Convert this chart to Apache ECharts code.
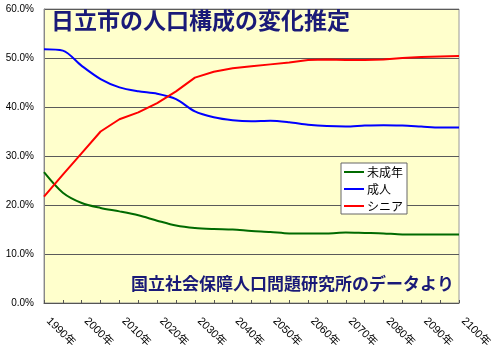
<!DOCTYPE html>
<html>
<head>
<meta charset="utf-8">
<script src="https://cdn.jsdelivr.net/npm/echarts@6/dist/echarts.min.js"></script>
<style>
  html, body { margin: 0; padding: 0; background: #fff; }
  #chart { width: 499px; height: 354px; }
</style>
</head>
<body>
<div id="chart"></div>
<script>
// 5年ごとの年（1990〜2100）
var years = []
for (var y = 1990; y <= 2100; y += 5) years.push(y + '年')

// 人口構成比（%）
var minors = [26.7, 22.5, 20.4, 19.4, 18.7, 17.9, 16.8, 15.8, 15.3, 15.1, 15.0, 14.7,
  14.5, 14.2, 14.2, 14.2, 14.4, 14.3, 14.2, 14.0, 14.0, 14.0, 14.0]
var adults = [51.8, 51.5, 48.4, 45.7, 44.0, 43.2, 42.7, 41.6, 39.1, 37.9, 37.3, 37.1,
  37.2, 36.9, 36.4, 36.1, 36.0, 36.2, 36.3, 36.2, 36.0, 35.8, 35.8]
var seniors = [21.7, 26.2, 30.6, 35.0, 37.5, 38.9, 40.8, 43.2, 46.0, 47.2, 47.9, 48.3,
  48.7, 49.1, 49.6, 49.7, 49.6, 49.6, 49.7, 50.0, 50.2, 50.3, 50.4]

var yTicks = [0, 10, 20, 30, 40, 50, 60]

var jpFont = '"Noto Sans CJK JP", sans-serif'
var latinFont = '"Liberation Sans", "Noto Sans CJK JP", sans-serif'

var myChart = echarts.init(document.getElementById('chart'))

var option = {
  animation: false,
  backgroundColor: '#fff',
  title: [{
    text: '日立市の人口構成の変化推定',
    left: 51,
    top: 9,
    padding: 0,
    textStyle: { fontFamily: jpFont, fontSize: 23, fontWeight: 'bold', color: '#1a1a78' }
  }, {
    text: '国立社会保障人口問題研究所のデータより',
    left: 131,
    top: 275,
    padding: 0,
    textStyle: { fontFamily: jpFont, fontSize: 17, fontWeight: 'bold', color: '#1a1a78' }
  }],
  legend: {
    orient: 'vertical',
    left: 341,
    top: 163,
    padding: [3, 4, 2, 3],
    itemGap: 5,
    itemWidth: 20,
    itemHeight: 2,
    icon: 'rect',
    backgroundColor: '#fff',
    borderColor: '#666',
    borderWidth: 1,
    borderRadius: 0,
    textStyle: { fontFamily: jpFont, fontSize: 12, color: '#000', lineHeight: 12, padding: [0, 0, 0, -2] },
    data: ['未成年', '成人', 'シニア']
  },
  grid: {
    left: 44,
    right: 40,
    top: 9,
    bottom: 51,
    show: true,
    backgroundColor: '#FFFFCC',
    borderColor: '#999',
    borderWidth: 1
  },
  xAxis: {
    type: 'category',
    data: years,
    boundaryGap: false,
    axisLine: { lineStyle: { color: '#555', width: 1 } },
    axisTick: { show: true, inside: true, length: 3, interval: 0, lineStyle: { color: '#555' } },
    axisLabel: {
      interval: 1,
      rotate: -45,
      margin: 12,
      padding: [0, 0, 0, 6],
      fontSize: 11,
      color: '#000',
      fontFamily: latinFont
    },
    splitLine: { show: false }
  },
  yAxis: {
    type: 'value',
    min: yTicks[0],
    max: yTicks[yTicks.length - 1],
    interval: 10,
    axisLine: { show: true, lineStyle: { color: '#888' } },
    axisTick: { show: false },
    axisLabel: {
      margin: 10,
      fontSize: 10,
      color: '#000',
      fontFamily: latinFont,
      formatter: function(v) { return v.toFixed(1) + '%' }
    },
    splitLine: { show: true, lineStyle: { color: '#5a5a5a', width: 1 } }
  },
  series: [{
    name: '未成年',
    type: 'line',
    data: minors,
    smooth: 0.3,
    symbol: 'none',
    lineStyle: { color: '#006a00', width: 2 },
    itemStyle: { color: '#006a00' }
  }, {
    name: '成人',
    type: 'line',
    data: adults,
    smooth: 0.3,
    symbol: 'none',
    lineStyle: { color: '#0000ff', width: 2 },
    itemStyle: { color: '#0000ff' }
  }, {
    name: 'シニア',
    type: 'line',
    data: seniors,
    symbol: 'none',
    lineStyle: { color: '#ff0000', width: 2 },
    itemStyle: { color: '#ff0000' }
  }]
}

myChart.setOption(option, true)
</script>
</body>
</html>
